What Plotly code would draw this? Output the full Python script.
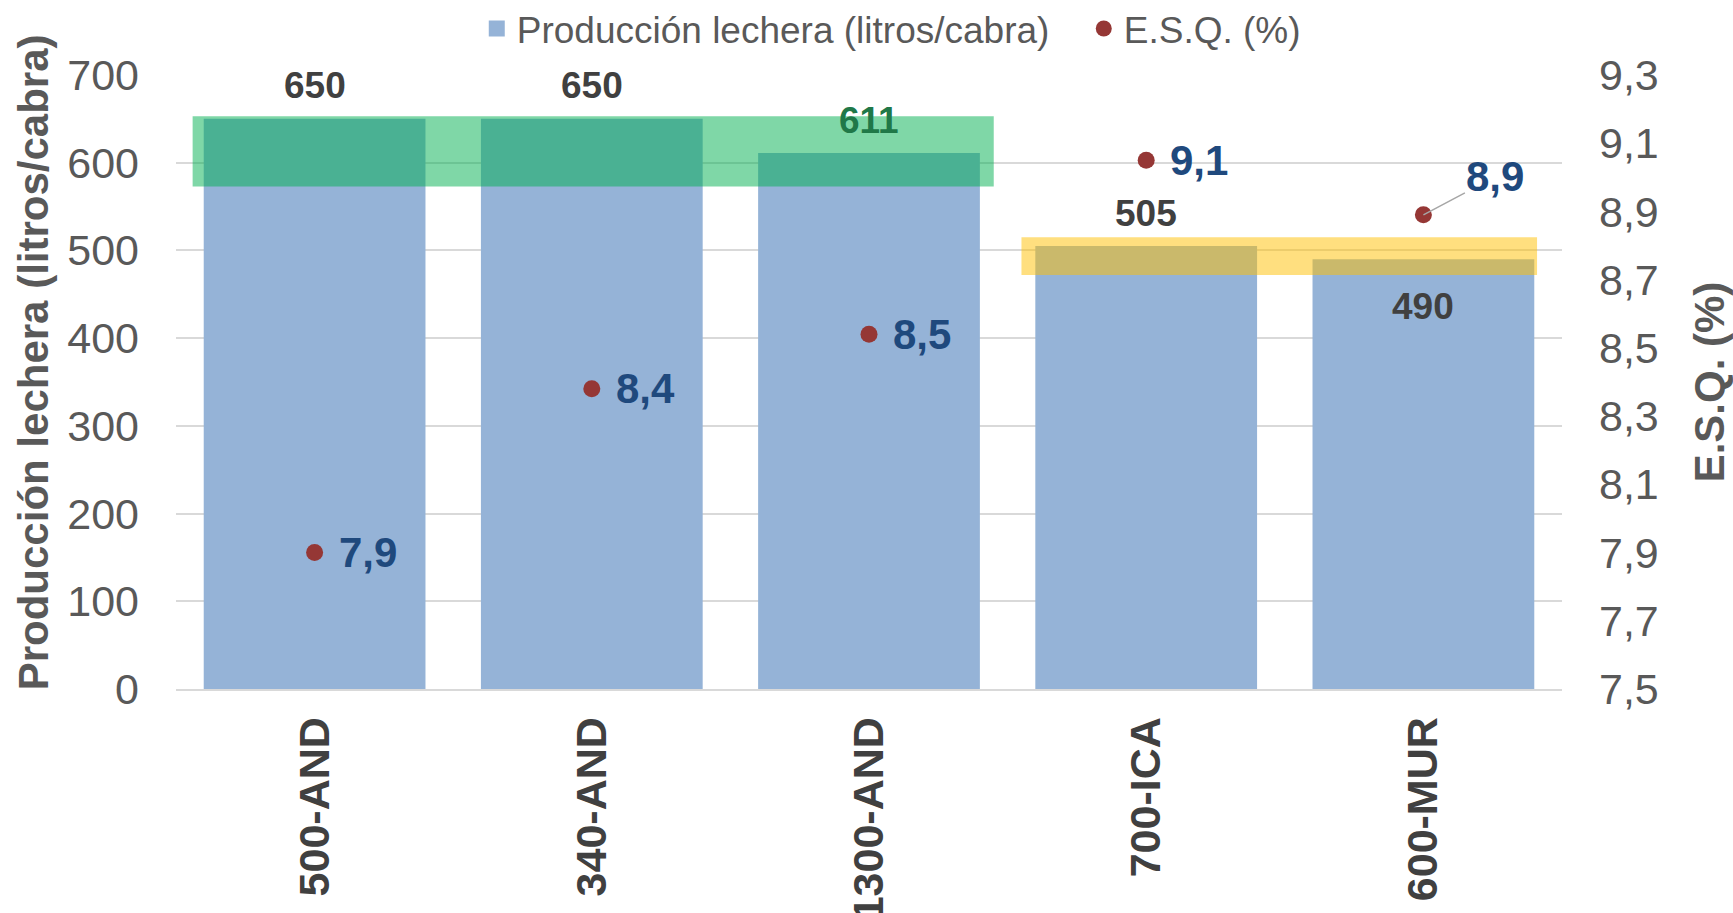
import plotly.graph_objects as go

# ---- data ----
categories = ["500-AND", "340-AND", "1300-AND", "700-ICA", "600-MUR"]
produccion = [650, 650, 611, 505, 490]
esq = [7.90, 8.38, 8.54, 9.05, 8.89]
left_ticks = [0, 100, 200, 300, 400, 500, 600, 700]
right_ticks = [7.5, 7.7, 7.9, 8.1, 8.3, 8.5, 8.7, 8.9, 9.1, 9.3]
right_ticktext = ["7,5", "7,7", "7,9", "8,1", "8,3", "8,5", "8,7", "8,9", "9,1", "9,3"]
# highlight bands (category index span, value span)
green_band = {"x0": -0.44, "x1": 2.45, "y0": 573, "y1": 653}
yellow_band = {"x0": 2.55, "x1": 4.41, "y0": 472, "y1": 515}
bar_label_shift = [33, 33, 33, 33, -47]
bar_label_color = ["#404040", "#404040", "rgb(32,120,72)", "#404040", "#404040"]

FONT = "Liberation Sans, Arial, sans-serif"
BAR_COLOR = "#95B3D7"
PT_COLOR = "#953735"
LBL_BLUE = "#1F497D"
GRID = "#D9D9D9"
GREY = "#595959"

fig = go.Figure()
fig.add_trace(go.Bar(
    x=categories, y=produccion, name="Producción lechera (litros/cabra)",
    marker=dict(color=BAR_COLOR, line=dict(width=0)), yaxis="y", showlegend=False,
))
# legend entry for the bars (square swatch)
fig.add_trace(go.Scatter(
    x=[None], y=[None], name="Producción lechera (litros/cabra)", mode="markers",
    marker=dict(color=BAR_COLOR, size=16, symbol="square"), yaxis="y",
))
fig.add_trace(go.Scatter(
    x=categories, y=esq, name="E.S.Q. (%)", mode="markers",
    marker=dict(color=PT_COLOR, size=17), yaxis="y2",
))

annotations = []
for i, (c, v) in enumerate(zip(categories, produccion)):
    annotations.append(dict(
        x=c, y=v, xref="x", yref="y", text=f"<b>{v}</b>", showarrow=False,
        yshift=bar_label_shift[i], yanchor="middle",
        font=dict(family=FONT, size=37, color=bar_label_color[i]),
    ))
for i, (c, v) in enumerate(zip(categories, esq)):
    txt = f"<b>{v:.1f}</b>".replace(".", ",")
    if i == 4:
        annotations.append(dict(
            x=c, y=v, xref="x", yref="y2", text=txt, showarrow=True,
            arrowhead=0, arrowwidth=1.5, arrowcolor="#A6A6A6", ax=72, ay=-38,
            standoff=0, startstandoff=0,
            font=dict(family=FONT, size=42, color=LBL_BLUE),
        ))
    else:
        annotations.append(dict(
            x=c, y=v, xref="x", yref="y2", text=txt, showarrow=False,
            xanchor="left", yanchor="middle", xshift=22,
            font=dict(family=FONT, size=42, color=LBL_BLUE),
        ))
# left axis title
annotations.append(dict(
    x=-0.1032, y=0.532, xref="paper", yref="paper", xanchor="center", yanchor="middle",
    text="<b>Producción lechera (litros/cabra)</b>", textangle=-90, showarrow=False,
    font=dict(family=FONT, size=42, color=GREY),
))

shapes = [
    dict(type="rect", xref="x", yref="y", layer="above", line=dict(width=0),
         fillcolor="rgba(0,176,80,0.5)", **green_band),
    dict(type="rect", xref="x", yref="y", layer="above", line=dict(width=0),
         fillcolor="rgba(255,192,0,0.5)", **yellow_band),
]

fig.update_layout(
    width=1733, height=913,
    margin=dict(l=176, r=171, t=75, b=224, autoexpand=False),
    paper_bgcolor="white", plot_bgcolor="white",
    font=dict(family=FONT, color=GREY),
    bargap=0.2,
    showlegend=True,
    legend=dict(
        orientation="h", x=0.217, xanchor="left", y=1.075, yanchor="middle",
        font=dict(family=FONT, size=37, color=GREY),
        entrywidth=562, entrywidthmode="pixels",
        bgcolor="rgba(0,0,0,0)",
    ),
    xaxis=dict(
        type="category", range=[-0.5, 4.5],
        tickangle=-90, tickfont=dict(family=FONT, size=43, color="#404040"),
        showgrid=False, showline=True, linecolor=GRID, linewidth=2,
        ticks="", ticklabelstandoff=9, automargin=False,
        tickprefix="<b>", ticksuffix="</b>",
    ),
    yaxis=dict(
        range=[0, 700], tickvals=left_ticks, showgrid=True, gridcolor=GRID, gridwidth=2,
        zeroline=False, showline=False, ticks="",
        tickfont=dict(family=FONT, size=43, color=GREY), ticklabelstandoff=36,
        automargin=False,
    ),
    yaxis2=dict(
        range=[7.5, 9.3], tickvals=right_ticks, ticktext=right_ticktext,
        overlaying="y", side="right", showgrid=False, zeroline=False, showline=False,
        ticks="", tickfont=dict(family=FONT, size=43, color=GREY), ticklabelstandoff=36,
        title=dict(text="<b>E.S.Q. (%)</b>",
                   font=dict(family=FONT, size=42, color=GREY), standoff=40),
        automargin=False,
    ),
    annotations=annotations,
    shapes=shapes,
)

fig.write_html("out.html", post_script="document.body.style.margin='0';",
               config={"displayModeBar": False})
